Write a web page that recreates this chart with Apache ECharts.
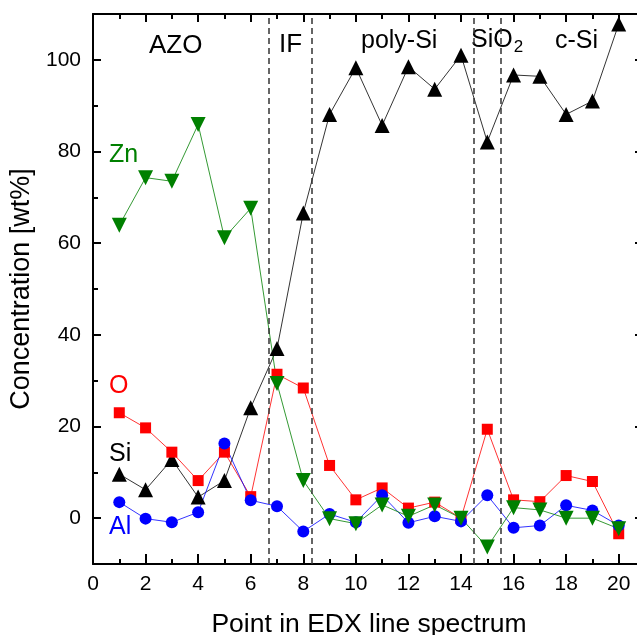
<!DOCTYPE html>
<html>
<head>
<meta charset="utf-8">
<script src="https://cdn.jsdelivr.net/npm/echarts@6/dist/echarts.min.js"></script>
<style>
  html, body { margin: 0; padding: 0; background: #fff; }
  #chart { width: 637px; height: 635px; }
</style>
</head>
<body>
<div id="chart"></div>
<script>
// EDX line scan, points 1..20
var points = [1, 2, 3, 4, 5, 6, 7, 8, 9, 10, 11, 12, 13, 14, 15, 16, 17, 18, 19, 20]
var si = [9.6, 6.2, 12.8, 4.6, 8.2, 24.1, 37.0, 66.6, 88.1, 98.3, 85.7, 98.5, 93.6, 101.0, 82.1, 96.7, 96.4, 88.1, 91.0, 107.8]
var oxy = [23.0, 19.7, 14.4, 8.2, 14.4, 4.7, 31.4, 28.4, 11.5, 4.0, 6.6, 2.2, 3.5, 0.0, 19.4, 4.0, 3.6, 9.3, 8.0, -3.4]
var al = [3.5, -0.1, -0.9, 1.3, 16.3, 3.9, 2.6, -2.9, 0.9, -0.9, 5.0, -1.0, 0.4, -0.7, 5.0, -2.1, -1.6, 2.8, 1.7, -1.6]
var zn = [63.9, 74.3, 73.5, 85.9, 61.2, 67.6, 29.4, 8.2, -0.1, -1.2, 2.9, 0.4, 2.9, 0.0, -6.3, 2.3, 1.8, 0.0, 0.0, -2.3]

// layer boundaries (dashed lines)
var boundaries = [6.67, 8.33, 14.5, 15.5]

var xMajor = [0, 2, 4, 6, 8, 10, 12, 14, 16, 18, 20]
var xMinor = [1, 3, 5, 7, 9, 11, 13, 15, 17, 19, 21]
var yMajor = [0, 20, 40, 60, 80, 100]
var yMinor = [-10, 10, 30, 50, 70, 90, 110]

var FONT = 'Liberation Sans, Arial, sans-serif'

function pairs (ys) {
  return points.map(function (x, i) { return [x, ys[i]] })
}

function xAx (pos, ticks, len, showLine, showLabel) {
  return {
    type: 'value', position: pos, min: 0, max: 21,
    axisLine: { show: showLine, onZero: false, lineStyle: { color: '#000', width: 2 } },
    axisTick: { show: true, inside: true, length: len, customValues: ticks, lineStyle: { color: '#000', width: 2 } },
    axisLabel: showLabel ? { show: true, customValues: ticks, color: '#000', fontSize: 21, fontFamily: FONT, margin: 10 } : { show: false },
    splitLine: { show: false }
  }
}

function yAx (pos, ticks, len, showLine, showLabel) {
  return {
    type: 'value', position: pos, min: -10, max: 110,
    axisLine: { show: showLine, onZero: false, lineStyle: { color: '#000', width: 2 } },
    axisTick: { show: true, inside: true, length: len, customValues: ticks, lineStyle: { color: '#000', width: 2 } },
    axisLabel: showLabel ? { show: true, customValues: ticks, color: '#000', fontSize: 21, fontFamily: FONT, margin: 12 } : { show: false },
    splitLine: { show: false }
  }
}

var xAxes = [
  xAx('bottom', xMajor, 10, true, true),
  xAx('bottom', xMinor, 5, false, false),
  xAx('top', xMajor, 8, true, false),
  xAx('top', xMinor, 5, false, false)
]
xAxes[0].name = 'Point in EDX line spectrum'
xAxes[0].nameLocation = 'middle'
xAxes[0].nameGap = 47
xAxes[0].nameTextStyle = { color: '#000', fontSize: 26.5, fontFamily: FONT }

var yAxes = [
  yAx('left', yMajor, 8, true, true),
  yAx('left', yMinor, 5, false, false),
  yAx('right', yMajor, 10, true, false),
  yAx('right', yMinor, 5, false, false)
]
yAxes[0].name = 'Concentration [wt%]'
yAxes[0].nameLocation = 'middle'
yAxes[0].nameGap = 49
yAxes[0].nameTextStyle = { color: '#000', fontSize: 27, fontFamily: FONT }

function line (name, ys, color, symbol, size, rotate) {
  return {
    name: name, type: 'line', data: pairs(ys),
    symbol: symbol, symbolSize: size, symbolRotate: rotate || 0,
    showAllSymbol: true,
    lineStyle: { color: color, width: 1, opacity: 0.8 },
    itemStyle: { color: color, borderWidth: 0, opacity: 1 },
    emphasis: { disabled: true },
    animation: false
  }
}

var series = [
  line('Si', si, '#000000', 'triangle', 15),
  line('O', oxy, '#ff0000', 'rect', 11),
  line('Al', al, '#0000ff', 'circle', 12),
  line('Zn', zn, '#008000', 'triangle', 15, 180)
]
series[0].markLine = {
  silent: true, symbol: 'none', animation: false,
  label: { show: false },
  lineStyle: { color: '#333', type: [6, 4], width: 1.5 },
  data: boundaries.map(function (b) { return { xAxis: b } })
}

function label (text, x, y, color, size) {
  return {
    type: 'text', left: x, top: y,
    style: { text: text, fill: color, fontSize: size || 25, fontFamily: FONT }
  }
}

var chart = echarts.init(document.getElementById('chart'))
chart.setOption({
  animation: false,
  grid: { left: 93, top: 14, width: 552, height: 550, containLabel: false, outerBoundsMode: 'none' },
  xAxis: xAxes,
  yAxis: yAxes,
  series: series,
  graphic: [
    label('AZO', 149, 33, '#000', 26),
    label('IF', 279, 32, '#000', 26),
    label('poly-Si', 361, 29, '#000'),
    {
      type: 'text', left: 471, top: 28,
      style: {
        text: '{a|SiO}{b|2}', fontFamily: FONT,
        rich: {
          a: { fontSize: 25, fill: '#000', fontFamily: FONT },
          b: { fontSize: 17, fill: '#000', fontFamily: FONT, padding: [14, 0, 0, 1] }
        }
      }
    },
    label('c-Si', 555, 29, '#000'),
    label('Zn', 109, 143, '#008000'),
    label('O', 109, 374, '#ff0000'),
    label('Si', 109, 442, '#000'),
    label('Al', 109, 515, '#0000ff')
  ]
})
</script>
</body>
</html>
